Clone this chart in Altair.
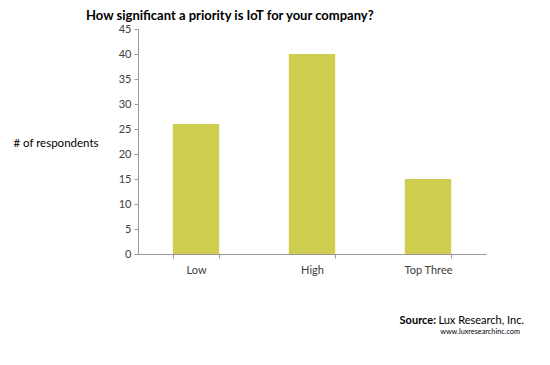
import altair as alt
import pandas as pd

categories = ["Low", "High", "Top Three"]
respondents = [26, 40, 15]
y_ticks = [0, 5, 10, 15, 20, 25, 30, 35, 40, 45]

title_text = "How significant a priority is IoT for your company?"
y_title = "# of respondents"
source_bold = "Source:"
source_rest = "Lux Research, Inc."
source_url = "www.luxresearchinc.com"

df = pd.DataFrame({"category": categories, "value": respondents})
note = pd.DataFrame({"k": [0]})

FONT = "Lato"

bars = alt.Chart(df).mark_bar(color="#CFCD4F").encode(
    x=alt.X(
        "category:N",
        sort=categories,
        scale=alt.Scale(paddingInner=0.6, paddingOuter=0.3),
        axis=alt.Axis(
            title=None,
            labelAngle=0,
            tickBand="extent",
            tickSize=4,
            tickColor="#999999",
            domainColor="#999999",
            labelColor="#404040",
            labelFontSize=11,
            labelFont=FONT,
            labelPadding=6,
        ),
    ),
    y=alt.Y(
        "value:Q",
        scale=alt.Scale(domain=[0, 45], nice=False),
        axis=alt.Axis(
            title=y_title,
            titleAngle=0,
            titleAlign="right",
            titleBaseline="middle",
            titleX=-40,
            titleY=114,
            titleFont=FONT,
            titleFontSize=11.5,
            titleFontWeight="normal",
            titleColor="#000000",
            values=y_ticks,
            grid=False,
            tickSize=4,
            tickColor="#999999",
            domainColor="#999999",
            labelColor="#404040",
            labelFontSize=11,
            labelFont=FONT,
            labelPadding=3,
        ),
    ),
)

src1 = alt.Chart(note).mark_text(
    text=source_bold, align="right", baseline="middle", font=FONT,
    fontSize=11, fontWeight="bold", color="#000000",
).encode(x=alt.value(298), y=alt.value(292))

src2 = alt.Chart(note).mark_text(
    text=source_rest, align="right", baseline="middle", font=FONT,
    fontSize=11, fontWeight="normal", color="#000000",
).encode(x=alt.value(386), y=alt.value(292))

src3 = alt.Chart(note).mark_text(
    text=source_url, align="right", baseline="middle", font=FONT,
    fontSize=7.3, fontWeight="normal", color="#000000",
).encode(x=alt.value(382), y=alt.value(303))

chart = alt.layer(bars, src1, src2, src3).properties(
    width=348,
    height=225,
    title=alt.TitleParams(
        text=title_text,
        anchor="start",
        frame="group",
        dx=-52,
        dy=0,
        offset=0,
        font=FONT,
        fontSize=13,
        fontWeight="bold",
        color="#000000",
    ),
    autosize=alt.AutoSizeParams(type="none"),
    padding={"left": 130, "top": 21, "right": 56, "bottom": 103},
).configure_view(stroke=None)

chart.save("out.html", embed_options={"renderer": "svg", "actions": False})
